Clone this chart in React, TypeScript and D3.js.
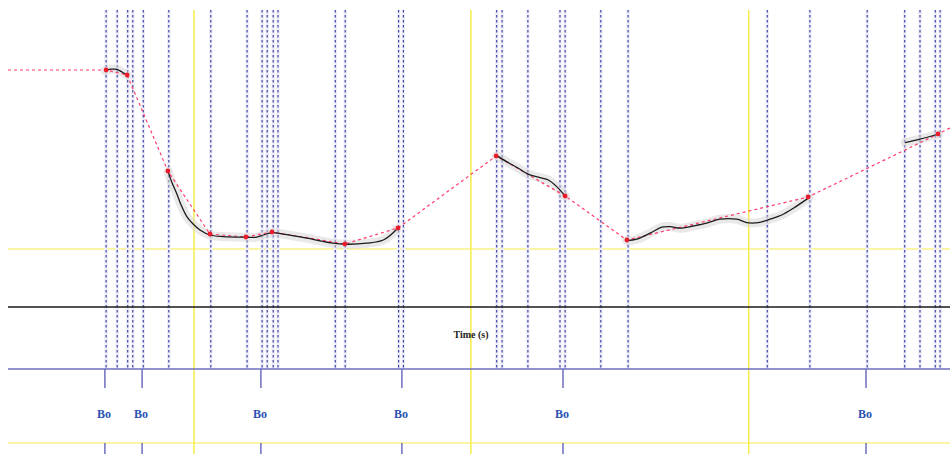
import React, { useRef, useEffect } from 'react';
import * as d3 from 'd3';

// interval boundaries (s)
const boundaryTimes = [0.327, 0.364, 0.399, 0.416, 0.451, 0.536, 0.676, 0.797, 0.847, 0.864, 0.884, 0.9,
  1.091, 1.124, 1.302, 1.318, 1.629, 1.647, 1.733, 1.84, 1.857, 1.976, 2.067, 2.531, 2.673, 2.864,
  2.989, 3.04, 3.091, 3.107];
const yellowTimes = [0.62, 1.543, 2.469];

// pitch targets (s, Hz)
const targetTimes = [0.327, 0.397, 0.533, 0.673, 0.793, 0.88, 1.123, 1.3, 1.627, 1.857, 2.063, 2.667, 3.1];
const targetHz = [218.5, 216, 168, 136.5, 135, 137.5, 131.5, 139.5, 175.5, 155.5, 133.5, 155, 186.5];
const leadIn: [number, number] = [0, 218.5];
const tailOut: [number, number] = [3.14, 189.5];

// measured f0 contour pieces
const contour1 = [[0.323, 218.2], [0.343, 218.9], [0.363, 218.8], [0.38, 217.5], [0.397, 215.8]];
const contour2 = [[0.534, 167.7], [0.547, 162], [0.562, 156.9], [0.577, 151], [0.596, 145.2], [0.617, 141.5],
  [0.64, 138.5], [0.673, 136], [0.718, 135.2], [0.792, 134.9], [0.829, 134.9], [0.851, 136], [0.881, 137.2],
  [0.918, 136.4], [0.996, 134.4], [1.084, 131.9], [1.123, 131.4], [1.196, 131.9], [1.251, 133.5], [1.296, 138.9]];
const contour3 = [[1.629, 175.7], [1.662, 172.7], [1.7, 169.5], [1.734, 166.4], [1.773, 164.7], [1.801, 163.5],
  [1.829, 160.2], [1.859, 155.2]];
const contour4 = [[2.062, 133.2], [2.096, 133.9], [2.14, 136.9], [2.179, 139.9], [2.207, 140.2], [2.24, 139.4],
  [2.284, 140.5], [2.329, 141.9], [2.373, 143.9], [2.429, 143.9], [2.462, 142.2], [2.501, 142.2], [2.54, 143.9],
  [2.579, 146], [2.618, 149.4], [2.67, 154.7]];
const contour5 = [[2.99, 182.2], [3.04, 183.9], [3.101, 186.5]];

const refHz = 129;
const baseHz = 100;

// annotation tier
const tierTimes = [0.323, 0.447, 0.843, 1.313, 1.85, 2.86];
const tierLabels = ['Bo', 'Bo', 'Bo', 'Bo', 'Bo', 'Bo'];

const App = () => {
  const chartRef = useRef<SVGSVGElement>(null);

  useEffect(() => {
    const width = 950;
    const height = 454;
    const left = 8;
    const top = 10;
    const tierTop = 369;
    const tierBottom = 443;

    const x = d3.scaleLinear().domain([0, 3.14]).range([left, width]);
    const y = d3.scaleLinear().domain([100, 250]).range([307, 7]);

    const svg = d3.select(chartRef.current)
      .attr('width', width)
      .attr('height', height);
    svg.selectAll('*').remove();

    // yellow reference lines
    svg.append('line')
      .attr('x1', left).attr('x2', width)
      .attr('y1', y(refHz)).attr('y2', y(refHz))
      .attr('stroke', '#f6ec4a').attr('stroke-width', 1.2);
    svg.append('line')
      .attr('x1', left).attr('x2', width)
      .attr('y1', tierBottom).attr('y2', tierBottom)
      .attr('stroke', '#f6ec4a').attr('stroke-width', 1.2);

    svg.append('g')
      .selectAll('line')
      .data(yellowTimes)
      .join('line')
      .attr('x1', d => x(d)).attr('x2', d => x(d))
      .attr('y1', top).attr('y2', height)
      .attr('stroke', '#f6ec4a').attr('stroke-width', 1.5);

    // boundary lines
    const bnd = svg.append('g');
    bnd.selectAll('line.halo')
      .data(boundaryTimes)
      .join('line')
      .attr('class', 'halo')
      .attr('x1', d => x(d)).attr('x2', d => x(d))
      .attr('y1', top).attr('y2', tierTop)
      .attr('stroke', '#eeeef7').attr('stroke-width', 3.5);
    bnd.selectAll('line.dash')
      .data(boundaryTimes)
      .join('line')
      .attr('class', 'dash')
      .attr('x1', d => x(d)).attr('x2', d => x(d))
      .attr('y1', top).attr('y2', tierTop)
      .attr('stroke', '#4343aa').attr('stroke-width', 1.2)
      .attr('stroke-dasharray', '2.5,2.5');

    // baseline
    svg.append('line')
      .attr('x1', left).attr('x2', width)
      .attr('y1', y(baseHz)).attr('y2', y(baseHz))
      .attr('stroke', '#1a1a1a').attr('stroke-width', 1.5);

    svg.append('text')
      .attr('x', 471).attr('y', 338)
      .attr('text-anchor', 'middle')
      .attr('font-family', 'Liberation Serif, serif')
      .attr('font-size', 10)
      .attr('font-weight', 'bold')
      .attr('fill', '#222')
      .text('Time (s)');

    // contour
    const line = d3.line<number[]>()
      .x(d => x(d[0]))
      .y(d => y(d[1]))
      .curve(d3.curveCatmullRom);
    const contours = [contour1, contour2, contour3, contour4, contour5];
    svg.append('g')
      .selectAll('path')
      .data(contours)
      .join('path')
      .attr('d', d => line(d))
      .attr('fill', 'none')
      .attr('stroke', '#d4d4d4').attr('stroke-width', 9)
      .attr('stroke-opacity', 0.5)
      .attr('stroke-linecap', 'round');

    const targets: [number, number][] = targetTimes.map((t, i) => [t, targetHz[i]]);
    svg.append('path')
      .attr('d', d3.line<[number, number]>().x(d => x(d[0])).y(d => y(d[1]))([leadIn, ...targets, tailOut]))
      .attr('fill', 'none')
      .attr('stroke', '#ff3b6b').attr('stroke-width', 1.2)
      .attr('stroke-dasharray', '3,3');

    svg.append('g')
      .selectAll('path')
      .data(contours)
      .join('path')
      .attr('d', d => line(d))
      .attr('fill', 'none')
      .attr('stroke', '#1c1c1c').attr('stroke-width', 1.3);

    svg.append('g')
      .selectAll('circle')
      .data(targets)
      .join('circle')
      .attr('cx', d => x(d[0]))
      .attr('cy', d => y(d[1]))
      .attr('r', 2.4)
      .attr('fill', '#ec1c2c');

    // tier
    svg.append('line')
      .attr('x1', left).attr('x2', width)
      .attr('y1', tierTop).attr('y2', tierTop)
      .attr('stroke', '#6e6ebe').attr('stroke-width', 1.5);

    const tier = svg.append('g');
    tier.selectAll('line.up')
      .data(tierTimes)
      .join('line')
      .attr('class', 'up')
      .attr('x1', d => x(d)).attr('x2', d => x(d))
      .attr('y1', tierTop).attr('y2', tierTop + 19)
      .attr('stroke', '#6e6ebe').attr('stroke-width', 1.5);
    tier.selectAll('line.down')
      .data(tierTimes)
      .join('line')
      .attr('class', 'down')
      .attr('x1', d => x(d)).attr('x2', d => x(d))
      .attr('y1', tierBottom).attr('y2', height)
      .attr('stroke', '#6e6ebe').attr('stroke-width', 1.5);
    tier.selectAll('text')
      .data(tierTimes)
      .join('text')
      .attr('x', d => x(d) - 1)
      .attr('y', 418)
      .attr('text-anchor', 'middle')
      .attr('font-family', 'Liberation Serif, serif')
      .attr('font-size', 12)
      .attr('font-weight', 'bold')
      .attr('fill', '#2a52b4')
      .text((d, i) => tierLabels[i]);
  }, []);

  return <svg ref={chartRef} style={{ position: 'absolute', left: 0, top: 0, background: '#fff' }}></svg>;
};

export default App;
